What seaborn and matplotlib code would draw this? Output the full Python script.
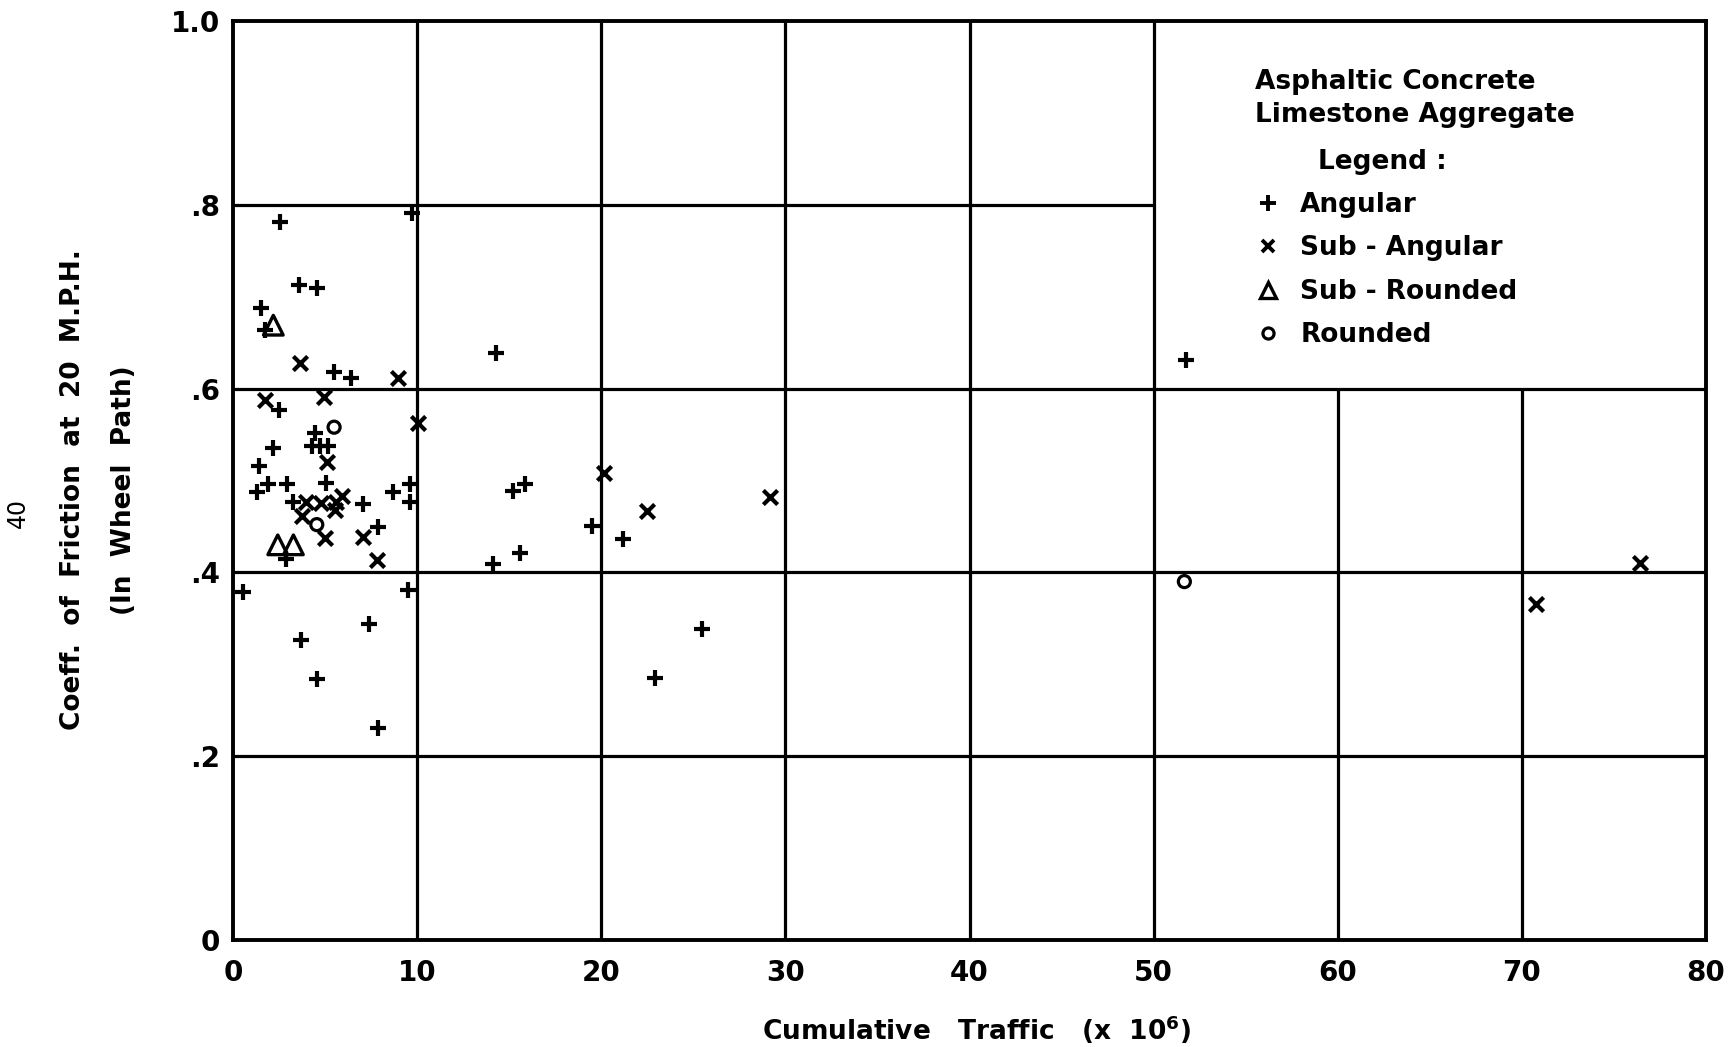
import matplotlib
matplotlib.use("Agg")
import matplotlib.pyplot as plt
import seaborn as sns
import pandas as pd
from matplotlib.lines import Line2D

# ---------------- data ----------------
angular_x = [2.55, 9.7, 3.6, 4.58, 1.5, 1.74, 5.49, 6.39, 2.52, 4.45,
             2.15, 4.27, 4.73, 5.18, 1.43, 1.32, 1.92, 2.92, 5.05, 3.28,
             7.08, 8.71, 9.61, 9.61, 7.86, 2.88, 0.53, 9.48, 7.39, 3.69,
             4.58, 7.86, 14.27, 15.23, 15.86, 19.52, 21.17, 15.59, 14.14,
             25.45, 22.92, 51.77]
angular_y = [0.781, 0.791, 0.713, 0.709, 0.688, 0.664, 0.618, 0.611, 0.577, 0.552,
             0.535, 0.537, 0.537, 0.537, 0.516, 0.487, 0.496, 0.496, 0.497, 0.477,
             0.474, 0.487, 0.496, 0.477, 0.449, 0.415, 0.379, 0.381, 0.3435, 0.326,
             0.284, 0.231, 0.639, 0.489, 0.496, 0.450, 0.436, 0.421, 0.409,
             0.338, 0.285, 0.631]

subangular_x = [3.64, 8.98, 1.74, 4.96, 10.07, 5.12, 3.97, 4.76, 5.6, 5.9,
                5.54, 3.73, 5.0, 7.08, 7.81, 20.15, 22.46, 29.17, 76.4, 70.75]
subangular_y = [0.6275, 0.611, 0.588, 0.591, 0.563, 0.520, 0.477, 0.475, 0.477, 0.483,
                0.468, 0.461, 0.437, 0.439, 0.414, 0.508, 0.467, 0.482, 0.410, 0.366]

subrounded_x = [2.19, 2.43, 3.28]
subrounded_y = [0.669, 0.430, 0.430]

rounded_x = [5.49, 4.55, 51.67]
rounded_y = [0.558, 0.452, 0.390]

shape_names = ["Angular", "Sub - Angular", "Sub - Rounded", "Rounded"]

x_ticks = [0, 10, 20, 30, 40, 50, 60, 70, 80]
x_tick_labels = ["0", "10", "20", "30", "40", "50", "60", "70", "80"]
y_ticks = [0, 0.2, 0.4, 0.6, 0.8, 1.0]
y_tick_labels = ["0", ".2", ".4", ".6", ".8", "1.0"]

# grid layout of the hand-drawn chart
grid_v = [10, 20, 30, 40, 50, 60, 70]
grid_v_top = [1.0, 1.0, 1.0, 1.0, 1.0, 0.6, 0.6]
grid_h = [0.2, 0.4, 0.6, 0.8]
grid_h_end = [80, 80, 80, 50]

# ---------------- figure ----------------
sns.set_theme(style="white")
plt.rcParams['font.family'] = ['DejaVu Sans']
plt.rcParams['font.weight'] = 'bold'
plt.rcParams['mathtext.default'] = 'bf'
plt.rcParams['text.color'] = 'black'
plt.rcParams['axes.labelcolor'] = 'black'
plt.rcParams['xtick.color'] = 'black'
plt.rcParams['ytick.color'] = 'black'

W, H = 1736, 1047
fig = plt.figure(figsize=(W / 100, H / 100), dpi=100)
ax = fig.add_axes([233 / W, 1 - 940 / H, (1706 - 233) / W, (940 - 21) / H])

df = pd.concat([
    pd.DataFrame({"traffic": angular_x, "friction": angular_y, "shape": shape_names[0]}),
    pd.DataFrame({"traffic": subangular_x, "friction": subangular_y, "shape": shape_names[1]}),
    pd.DataFrame({"traffic": subrounded_x, "friction": subrounded_y, "shape": shape_names[2]}),
    pd.DataFrame({"traffic": rounded_x, "friction": rounded_y, "shape": shape_names[3]}),
], ignore_index=True)

style = {
    "Angular": dict(marker="+", s=140, linewidth=3.0),
    "Sub - Angular": dict(marker="x", s=105, linewidth=3.0),
    "Sub - Rounded": dict(marker="^", s=200, linewidth=2.4, facecolor="none", edgecolor="black"),
    "Rounded": dict(marker="o", s=75, linewidth=2.3, facecolor="none", edgecolor="black"),
}
for name in shape_names:
    sub = df[df["shape"] == name]
    sns.scatterplot(data=sub, x="traffic", y="friction", color="black", ax=ax,
                    legend=False, zorder=3, **style[name])

# grid
for xv, top in zip(grid_v, grid_v_top):
    ax.vlines(xv, 0, top, color="black", linewidth=2.3, zorder=1)
for yv, end in zip(grid_h, grid_h_end):
    ax.hlines(yv, 0, end, color="black", linewidth=2.3, zorder=1)

ax.set_xlim(0, 80)
ax.set_ylim(0, 1.0)
ax.set_xticks(x_ticks)
ax.set_xticklabels(x_tick_labels, fontweight="bold")
ax.set_yticks(y_ticks)
ax.set_yticklabels(y_tick_labels, fontweight="bold")
ax.tick_params(axis="both", length=0, labelsize=20, colors="black")
ax.tick_params(axis="x", pad=14)
ax.tick_params(axis="y", pad=9)
ax.set_xlabel("")
ax.set_ylabel("")
for sp in ax.spines.values():
    sp.set_visible(True)
    sp.set_color("black")
    sp.set_linewidth(2.8)

# legend block
ax.text(0.6938, 0.934, "Asphaltic Concrete", transform=ax.transAxes,
        fontsize=19, ha="left", va="center", color="black", fontweight="bold")
ax.text(0.6938, 0.8977, "Limestone Aggregate", transform=ax.transAxes,
        fontsize=19, ha="left", va="center", color="black", fontweight="bold")
ax.text(0.7366, 0.847, "Legend :", transform=ax.transAxes,
        fontsize=19, ha="left", va="center", color="black", fontweight="bold")

handles = [
    Line2D([], [], linestyle="none", marker="+", markersize=12, markeredgewidth=2.8, color="black"),
    Line2D([], [], linestyle="none", marker="x", markersize=8, markeredgewidth=2.8, color="black"),
    Line2D([], [], linestyle="none", marker="^", markersize=12, markeredgewidth=2.4,
           markerfacecolor="none", color="black"),
    Line2D([], [], linestyle="none", marker="o", markersize=8, markeredgewidth=2.3,
           markerfacecolor="none", color="black"),
]
leg = ax.legend(handles, shape_names, loc="upper left", bbox_to_anchor=(0.6938, 0.814),
                frameon=False, prop={"size": 19, "weight": "bold"}, handlelength=1.0,
                handletextpad=0.72, borderpad=0.0, borderaxespad=0.0, labelspacing=0.66,
                labelcolor="black")

# axis titles
fig.text(977 / W, 1 - 1030 / H, "Cumulative   Traffic   (x  10$^{6}$)", ha="center",
         va="center", fontsize=19, color="black", fontweight="bold")
fig.text(73 / W, 1 - 490 / H, "Coeff.  of  Friction  at  20  M.P.H.", rotation=90,
         ha="center", va="center", fontsize=19, color="black", fontweight="bold")
fig.text(124 / W, 1 - 490 / H, "(In  Wheel  Path)", rotation=90,
         ha="center", va="center", fontsize=19, color="black", fontweight="bold")
fig.text(18 / W, 1 - 513 / H, "40", rotation=90, ha="center", va="center",
         fontsize=17, color="black", fontweight="normal")

fig.savefig("out.png", dpi=100, facecolor="white")
